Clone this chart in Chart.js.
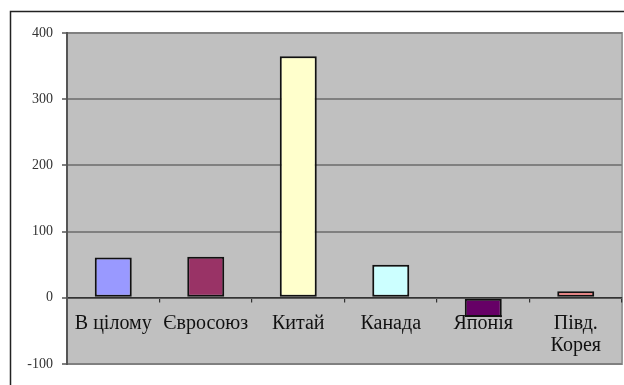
<!DOCTYPE html>
<html>
<head>
<meta charset="utf-8">
<script src="https://cdn.jsdelivr.net/npm/chart.js@4"></script>
<style>
  html, body { margin: 0; padding: 0; background: #fff; }
  #wrap { position: relative; width: 624px; height: 385px; }
</style>
</head>
<body>
<div id="wrap"><canvas id="grafico" width="624" height="385"></canvas></div>
<script>
const categorie = ['В цілому', 'Євросоюз', 'Китай', 'Канада', 'Японія', ['Півд.', 'Корея']];
const valori = [61, 62, 365, 50, -29, 10];
const colori = ['#9999FF', '#993366', '#FFFFCC', '#CCFFFF', '#660066', '#FF8080'];
const tickY = [-100, 0, 100, 200, 300, 400];

// sfondo grigio dell'area del grafico e cornice esterna
const sfondo = {
  id: 'sfondo',
  beforeDraw(chart) {
    const c = chart.ctx;
    const a = chart.chartArea;
    c.save();
    c.fillStyle = '#C0C0C0';
    c.fillRect(a.left, a.top, a.right - a.left, a.bottom - a.top);
    c.strokeStyle = '#9a9a9a';
    c.lineWidth = 2;
    c.strokeRect(a.left, a.top, a.right - a.left, a.bottom - a.top);
    c.strokeStyle = '#222';
    c.lineWidth = 1.5;
    c.beginPath();
    c.moveTo(10.5, 385);
    c.lineTo(10.5, 11.5);
    c.lineTo(624, 11.5);
    c.stroke();
    c.restore();
  }
};

const ctx = document.getElementById('grafico').getContext('2d');
const grafico = new Chart(ctx, {
  type: 'bar',
  data: {
    labels: categorie,
    datasets: [{
      data: valori,
      backgroundColor: colori,
      borderColor: '#111',
      borderWidth: 2,
      borderSkipped: false,
      categoryPercentage: 1,
      barPercentage: 0.4
    }]
  },
  options: {
    responsive: false,
    animation: false,
    layout: { padding: { left: 0, top: 33, right: 2, bottom: 21 } },
    plugins: {
      legend: { display: false },
      tooltip: { enabled: false }
    },
    scales: {
      x: {
        position: { y: 0 },
        grid: {
          drawOnChartArea: false,
          tickLength: 4,
          tickColor: '#333',
          lineWidth: 1.2
        },
        border: { color: '#333', width: 1.5 },
        ticks: {
          color: '#111',
          padding: 11,
          maxRotation: 0,
          autoSkip: false,
          font: { family: 'Liberation Serif', size: 20, lineHeight: 1.1 }
        }
      },
      y: {
        min: -100,
        max: 400,
        afterBuildTicks(scale) {
          scale.ticks = tickY.map(v => ({ value: v }));
        },
        afterFit(scale) {
          scale.width = 67;
        },
        grid: {
          color: '#808080',
          lineWidth: 2,
          tickLength: 5,
          tickColor: '#555',
          tickWidth: 1.5
        },
        border: { color: '#555', width: 2 },
        ticks: {
          color: '#333',
          padding: 9,
          font: { family: 'Liberation Serif', size: 14 }
        }
      }
    }
  },
  plugins: [sfondo]
});
</script>
</body>
</html>
